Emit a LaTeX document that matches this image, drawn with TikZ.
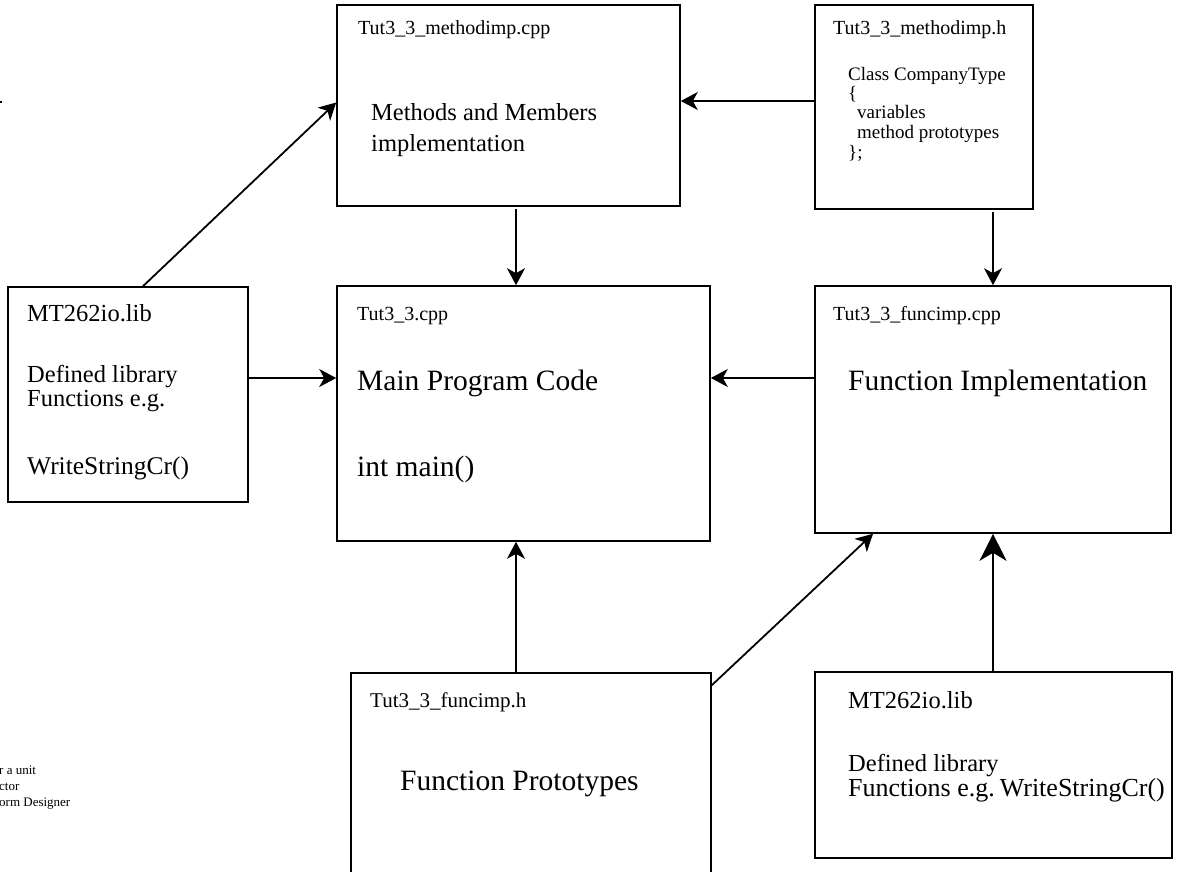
\documentclass[tikz,border=0pt]{standalone}
\usepackage{fontspec}
\setmainfont{Liberation Serif}
\usetikzlibrary{arrows.meta}
\begin{document}
\frenchspacing
\begin{tikzpicture}[x=1pt,y=-1pt,
  box/.style={draw, line width=1.6pt, rectangle, inner sep=0pt},
  ttl/.style={anchor=base west, inner sep=0pt, font=\fontsize{20}{24}\selectfont},
  bodytxt/.style={anchor=base west, inner sep=0pt, font=\fontsize{24.5}{29}\selectfont},
  bigtxt/.style={anchor=base west, inner sep=0pt, font=\fontsize{29.5}{35}\selectfont},
  codetxt/.style={anchor=base west, inner sep=0pt, font=\fontsize{19}{23}\selectfont},
  smalltxt/.style={anchor=base west, inner sep=0pt, font=\fontsize{13}{15}\selectfont},
  arr/.style={-{Stealth[length=17pt,width=18pt,inset=5pt]}, line width=1.8pt},
  bigarr/.style={-{Stealth[length=27pt,width=27pt,inset=8pt]}, line width=1.8pt}
]
\clip (0,0) rectangle (1191,872);
\fill[white] (0,0) rectangle (1191,872);

% ---- boxes ----
\node[box, minimum width=343pt, minimum height=201pt] (mcpp) at (508.5,105.5) {};
\node[box, minimum width=218pt, minimum height=204pt] (mh)   at (924,107) {};
\node[box, minimum width=240pt, minimum height=215pt] (llib) at (128,394.5) {};
\node[box, minimum width=373pt, minimum height=255pt] (main) at (523.5,413.5) {};
\node[box, minimum width=356pt, minimum height=247pt] (fcpp) at (993,409.5) {};
\node[box, minimum width=360pt, minimum height=220pt] (fh)   at (531,783) {};
\node[box, minimum width=357pt, minimum height=186pt] (rlib) at (993.5,765) {};

% ---- Tut3_3_methodimp.cpp ----
\node[ttl] (mcppT) at (358,35) {Tut3\_3\_methodimp.cpp};
\node[bodytxt] (mcppA) at (371,121) {Methods and Members};
\node[bodytxt] (mcppB) at (371,151) {implementation};

% ---- Tut3_3_methodimp.h ----
\node[ttl] (mhT) at (833,35) {Tut3\_3\_methodimp.h};
\node[codetxt] (mhA) at (848,81) {Class CompanyType};
\node[codetxt] (mhB) at (848,100) {\{};
\node[codetxt] (mhC) at (857,119) {variables};
\node[codetxt] (mhD) at (857,139) {method prototypes};
\node[codetxt] (mhE) at (848,158) {\};};

% ---- left MT262io.lib ----
\node[bodytxt] (llibT) at (27,321) {MT262io.lib};
\node[bodytxt] (llibA) at (27,382) {Defined library};
\node[bodytxt] (llibB) at (27,406) {Functions e.g.};
\node[bodytxt, font=\fontsize{25.5}{30}\selectfont] (llibC) at (27,474) {WriteStringCr()};

% ---- Tut3_3.cpp ----
\node[ttl] (mainT) at (357,320) {Tut3\_3.cpp};
\node[bigtxt] (mainA) at (357,390) {Main Program Code};
\node[bigtxt] (mainB) at (357,476) {int main()};

% ---- Tut3_3_funcimp.cpp ----
\node[ttl] (fcppT) at (833,320) {Tut3\_3\_funcimp.cpp};
\node[bigtxt] (fcppA) at (848,390) {Function Implementation};

% ---- Tut3_3_funcimp.h ----
\node[ttl, font=\fontsize{21}{25}\selectfont] (fhT) at (370,707) {Tut3\_3\_funcimp.h};
\node[bigtxt] (fhA) at (400,790) {Function Prototypes};

% ---- right MT262io.lib ----
\node[bodytxt] (rlibT) at (848,708) {MT262io.lib};
\node[bodytxt] (rlibA) at (848,771) {Defined library};
\node[bodytxt, font=\fontsize{26}{30}\selectfont] (rlibB) at (848,796) {Functions e.g.\hspace{5pt}WriteStringCr()};

% ---- partial notes at the left edge ----
\node[smalltxt] (noteA) at (-1,774) {r a unit};
\node[smalltxt] (noteB) at (-1,790) {ctor};
\node[smalltxt] (noteC) at (-1,806) {orm Designer};
\draw[line width=1.6pt] (0,102) -- (2,102);

% ---- connectors ----
\draw[arr] ([xshift=15pt]llib.north) -- ([yshift=3pt]mcpp.west);
\draw[arr] ([yshift=6pt]mh.west) -- ([yshift=4.5pt]mcpp.east);
\draw[arr, shorten <=2pt] ([xshift=7.5pt]mcpp.south) -- ([xshift=-7.5pt]main.north);
\draw[arr, shorten <=2pt] ([xshift=69pt]mh.south) -- (fcpp.north);
\draw[arr] ([yshift=16.5pt]llib.east) -- ([yshift=35.5pt]main.west);
\draw[arr] ([yshift=31.5pt]fcpp.west) -- ([yshift=35.5pt]main.east);
\draw[arr] ([xshift=-15pt]fh.north) -- ([xshift=-7.5pt]main.south);
\draw[arr] ([yshift=-13pt]fh.north east) -- ([xshift=-120pt]fcpp.south);
\draw[bigarr] ([xshift=-0.5pt]rlib.north) -- (fcpp.south);
\end{tikzpicture}
\end{document}
